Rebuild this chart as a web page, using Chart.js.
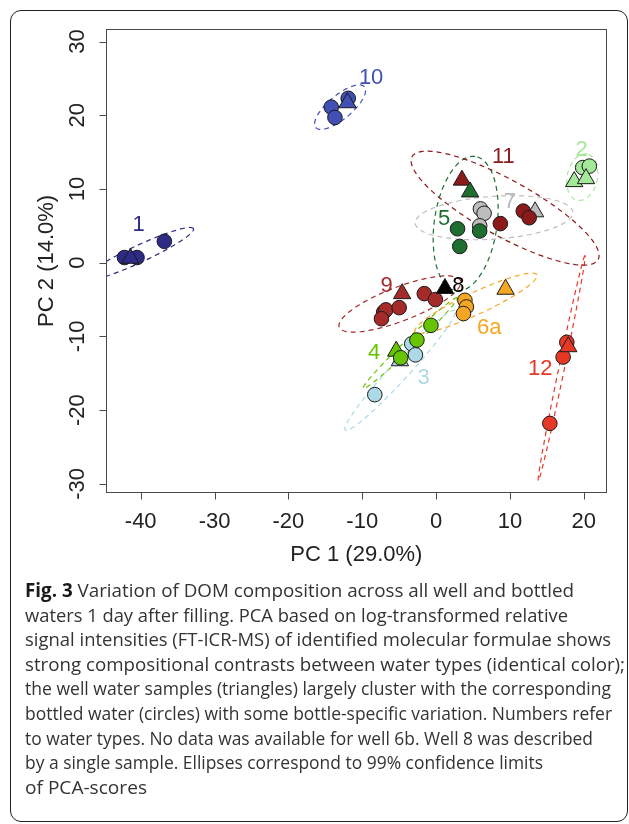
<!DOCTYPE html>
<html><head><meta charset="utf-8">
<script src="https://cdn.jsdelivr.net/npm/chart.js@4.4.1/dist/chart.umd.min.js"></script>
<style>
html,body{margin:0;padding:0;background:#fff;width:629px;height:824px;overflow:hidden;}
#frame{position:absolute;left:10px;top:10px;width:616px;height:810px;border:1.5px solid #222;border-radius:11px;}
#wrap{position:absolute;left:0;top:0;width:629px;height:580px;}
#caption{position:absolute;left:25px;top:0;font-family:"Open Sans",sans-serif;color:#333;white-space:nowrap;font-size:16px;}
#caption div{position:absolute;left:0;line-height:24.6px;transform-origin:0 50%;}
#caption b{color:#1a1a1a;}
</style></head>
<body>
<div id="frame"></div>
<div id="wrap"><canvas id="c" width="629" height="580"></canvas></div>
<div id="caption">
<div><b>Fig. 3</b> Variation of DOM composition across all well and bottled</div>
<div>waters 1 day after filling. PCA based on log-transformed relative</div>
<div>signal intensities (FT-ICR-MS) of identified molecular formulae shows</div>
<div id="ref">strong compositional contrasts between water types (identical color);</div>
<div>the well water samples (triangles) largely cluster with the corresponding</div>
<div>bottled water (circles) with some bottle-specific variation. Numbers refer</div>
<div>to water types. No data was available for well 6b. Well 8 was described</div>
<div>by a single sample. Ellipses correspond to 99% confidence limits</div>
<div>of PCA-scores</div>
</div>
<script>
// ---- data ----
const xTicks = [-40, -30, -20, -10, 0, 10, 20];
const yTicks = [-30, -20, -10, 0, 10, 20, 30];
const xTitle = 'PC 1 (29.0%)';
const yTitle = 'PC 2 (14.0%)';

const groups = ['1', '10', '2', '7', '11', '5', '9', '8', '6a', '3', '4', '12'];

// bottled waters (circles) and well waters (triangles)
const bottled1 = [{x:-42.2,y:0.7},{x:-40.5,y:0.7},{x:-36.8,y:2.9}];
const well1 = [{x:-41.4,y:0.6}];
const bottled10 = [{x:-14.2,y:21.1},{x:-13.7,y:19.7},{x:-11.9,y:22.3}];
const well10 = [{x:-12.0,y:21.7}];
const bottled2 = [{x:19.85,y:12.9},{x:20.75,y:13.1}];
const well2 = [{x:18.7,y:11.0},{x:20.3,y:11.4}];
const bottled7 = [{x:6.0,y:7.3},{x:6.5,y:6.7},{x:5.9,y:5.0}];
const well7 = [{x:13.4,y:6.9}];
const bottled11 = [{x:11.8,y:7.0},{x:12.6,y:6.1},{x:8.7,y:5.3}];
const well11 = [{x:3.5,y:11.2}];
const bottled5 = [{x:2.9,y:4.6},{x:3.2,y:2.2},{x:5.9,y:4.3}];
const well5 = [{x:4.6,y:9.6}];
const bottled9 = [{x:-7.1,y:-6.7},{x:-6.8,y:-6.4},{x:-7.4,y:-7.6},{x:-5.0,y:-6.1},{x:-1.6,y:-4.2},{x:-0.1,y:-5.0}];
const well9 = [{x:-4.6,y:-4.2}];
const bottled8 = [];
const well8 = [{x:1.2,y:-3.5}];
const bottled6a = [{x:3.9,y:-5.1},{x:4.1,y:-6.0},{x:3.7,y:-6.9}];
const well6a = [{x:9.4,y:-3.6}];
const bottled3 = [{x:-3.3,y:-11.0},{x:-2.8,y:-12.5},{x:-8.3,y:-17.9}];
const well3 = [{x:-4.9,y:-13.3}];
const bottled4 = [{x:-0.7,y:-8.5},{x:-2.6,y:-10.5},{x:-4.8,y:-12.9}];
const well4 = [{x:-5.4,y:-12.0}];
const bottled12 = [{x:17.7,y:-10.8},{x:17.2,y:-12.8},{x:15.4,y:-21.8}];
const well12 = [{x:17.9,y:-11.4}];

// 99% confidence ellipses: centre, semi-axes (PC units), rotation (deg)
const ellipseCentres = {'1':[-40.2,1.2],'10':[-13.0,21.1],'2':[19.8,11.6],'7':[7.85,6.1],'11':[9.34,7.4],'5':[4.0,5.3],'9':[-4.9,-5.6],'6a':[5.4,-5.5],'3':[-4.87,-14.6],'4':[-3.5,-10.9],'12':[17.0,-14.3]};
const ellipseAxes = {'1':[8.1,1.15],'10':[4.3,1.6],'2':[3.2,2.05],'7':[10.7,2.9],'11':[14.4,3.8],'5':[9.2,4.25],'9':[8.8,2.3],'6a':[9.1,1.5],'3':[11,1.25],'4':[8.85,0.65],'12':[15.6,0.38]};
const ellipseAngles = {'1':25,'10':40,'2':78,'7':4,'11':-29,'5':82,'9':21,'6a':25,'3':47.5,'4':44,'12':78.3};

// label anchors (PC units)
const labelAnchors = {'1':[-40.3,5.1],'10':[-8.8,25.1],'2':[19.7,15.3],'7':[10.0,8.2],'11':[9.1,14.3],'5':[1.1,6.0],'9':[-6.7,-3.1],'8':[3.0,-3.1],'6a':[7.2,-8.9],'3':[-1.7,-15.7],'4':[-8.4,-12.2],'12':[14.1,-14.4]};

// ---- styles ----
const colors = {'1':'#2d2b86','10':'#4150b5','2':'#a6e89a','7':'#bdbdbd','11':'#8b1a1a','5':'#1e6e30','9':'#a52a2a','8':'#000000','6a':'#f5a623','3':'#add8e6','4':'#66c400','12':'#e53826'};
const labelColors = Object.assign({}, colors, {'7':'#b8b8b8'});
const bottled = {'1':bottled1,'10':bottled10,'2':bottled2,'7':bottled7,'11':bottled11,'5':bottled5,'9':bottled9,'8':bottled8,'6a':bottled6a,'3':bottled3,'4':bottled4,'12':bottled12};
const wells = {'1':well1,'10':well10,'2':well2,'7':well7,'11':well11,'5':well5,'9':well9,'8':well8,'6a':well6a,'3':well3,'4':well4,'12':well12};

function ellipsePoints(g){
  const [cx,cy]=ellipseCentres[g], [a,b]=ellipseAxes[g], th=ellipseAngles[g]*Math.PI/180;
  const pts=[];
  for(let i=0;i<=120;i++){
    const t=i/120*2*Math.PI;
    pts.push({x:cx+a*Math.cos(t)*Math.cos(th)-b*Math.sin(t)*Math.sin(th),
              y:cy+a*Math.cos(t)*Math.sin(th)+b*Math.sin(t)*Math.cos(th)});
  }
  return pts;
}

const datasets=[];
groups.forEach(g=>{
  if(ellipseCentres[g]) datasets.push({data:ellipsePoints(g),showLine:true,pointRadius:0,borderColor:colors[g],borderWidth:1.2,borderDash:[5,4],fill:false,order:5000});
});
let idx=0;
groups.forEach(g=>{
  const circ={data:bottled[g],pointStyle:'circle',pointRadius:7.3,backgroundColor:colors[g],borderColor:'#1a1a1a',borderWidth:1,showLine:false};
  const tri={data:wells[g],pointStyle:'triangle',pointRadius:10,backgroundColor:colors[g],borderColor:'#1a1a1a',borderWidth:1,showLine:false};
  const seq = g==='4' ? [tri,circ] : [circ,tri];
  seq.forEach(d=>{ d.order=1000-(idx++); datasets.push(d); });
});

const FONT='"Liberation Sans", Arial, sans-serif';
const overlay={
  id:'overlay',
  afterDraw(chart){
    const {ctx,chartArea:a,scales:{x,y}}=chart;
    ctx.save();
    ctx.strokeStyle='#4a4a4a'; ctx.lineWidth=1;
    const L=Math.round(a.left)+0.5, R=Math.round(a.right)-0.5, T=Math.round(a.top)+0.5, B=Math.round(a.bottom)-0.5;
    ctx.strokeRect(L,T,R-L,B-T);
    ctx.beginPath();
    xTicks.forEach(v=>{const p=Math.round(x.getPixelForValue(v))+0.5; ctx.moveTo(p,B); ctx.lineTo(p,B+7);});
    yTicks.forEach(v=>{const p=Math.round(y.getPixelForValue(v))+0.5; ctx.moveTo(L,p); ctx.lineTo(L-7,p);});
    ctx.stroke();
    ctx.fillStyle='#222'; ctx.font='22px '+FONT; ctx.textAlign='center'; ctx.textBaseline='middle';
    xTicks.forEach(v=>ctx.fillText(String(v),x.getPixelForValue(v),B+29));
    yTicks.forEach(v=>{ctx.save(); ctx.translate(L-29,y.getPixelForValue(v)); ctx.rotate(-Math.PI/2); ctx.fillText(String(v),0,0); ctx.restore();});
    ctx.fillText(xTitle,(a.left+a.right)/2,B+62);
    ctx.save(); ctx.translate(L-60,(a.top+a.bottom)/2); ctx.rotate(-Math.PI/2); ctx.fillText(yTitle,0,0); ctx.restore();
    groups.forEach(g=>{
      const [lx,ly]=labelAnchors[g];
      ctx.fillStyle=labelColors[g];
      ctx.fillText(g,x.getPixelForValue(lx),y.getPixelForValue(ly));
    });
    ctx.restore();
  }
};

new Chart(document.getElementById('c'),{
  type:'scatter',
  data:{datasets},
  options:{
    responsive:false,animation:false,devicePixelRatio:1,
    layout:{padding:{top:29,right:22.3,left:0,bottom:0}},
    plugins:{legend:{display:false},tooltip:{enabled:false}},
    scales:{
      x:{type:'linear',min:-44.7,max:23.1,ticks:{display:false},grid:{display:false},border:{display:false},
         afterBuildTicks:s=>{s.ticks=xTicks.map(v=>({value:v}));},afterFit:s=>{s.height=87.3;}},
      y:{type:'linear',min:-31.2,max:31.7,ticks:{display:false},grid:{display:false},border:{display:false},
         afterBuildTicks:s=>{s.ticks=yTicks.map(v=>({value:v}));},afterFit:s=>{s.width=106;}}
    }
  },
  plugins:[overlay]
});

// caption layout: font sized from the widest line; each line stretched to its width in the reference
(function(){
  const cap=document.getElementById('caption');
  const c=document.createElement('canvas').getContext('2d');
  c.font='100px "Open Sans"';
  const w=c.measureText(document.getElementById('ref').textContent).width;
  const fs=600/w*100;
  cap.style.fontSize=fs.toFixed(2)+'px';
  const m=c.measureText('Hg');
  const asc=m.fontBoundingBoxAscent/100*fs, desc=m.fontBoundingBoxDescent/100*fs;
  const firstBaseline=597.5, step=24.6;
  const half=(24.6-(asc+desc))/2;
  const lineEnds=[574,568,611,625,611,612,593,543,147];
  [...cap.children].forEach((d,i)=>{
    d.style.top=(firstBaseline+i*step-half-asc).toFixed(2)+'px';
    const actual=d.getBoundingClientRect().width;
    const target=lineEnds[i]-25;
    d.style.transform='scaleX('+(target/actual).toFixed(4)+')';
  });
})();
</script>
</body></html>
